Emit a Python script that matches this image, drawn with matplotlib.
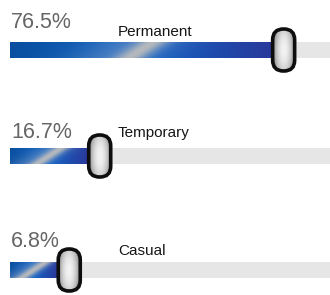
import numpy as np
import matplotlib.pyplot as plt
from matplotlib.patches import FancyBboxPatch, Rectangle
from matplotlib.colors import to_rgb

categories = ["Permanent", "Temporary", "Casual"]
shares = [76.5, 16.7, 6.8]

# layout (pixels -> data: x in percent, y in pixels)
W, H = 330, 295
PX = 3.076            # pixels per percent
X0 = -11.64           # percent value at left edge
row_y = [50, 156, 270]
pct_dy = [-22, -18, -23]
lab_dy = [-14, -19, -15]
bar_h = 16
track_left = X0 + 10 / PX
label_x = X0 + 118 / PX
pct_x = X0 + 11 / PX
knob_w, knob_h = 22, 42   # pixels

plt.rcParams['font.family'] = ['Liberation Sans', 'DejaVu Sans']

fig = plt.figure(figsize=(3.3, 2.95), dpi=100)
ax = fig.add_axes([0, 0, 1, 1])
ax.axis('off')
xmax = X0 + W / PX


def bar_img(n):
    x = np.arange(n)[None, :] + 0.5
    y = np.arange(bar_h)[:, None] + 0.5
    t = (x / n)[..., None]
    left = np.array(to_rgb('#0a4f9f'))
    mid = np.array(to_rgb('#0c60c4'))
    right = np.array(to_rgb('#2a399b'))
    base = np.where(t < 0.5, left + (mid - left) * (t / 0.5),
                    mid + (right - mid) * ((t - 0.5) / 0.5))
    base = np.broadcast_to(base, (bar_h, n, 3))
    u = (x - n / 2 - 1.5 * (bar_h / 2 - y))[..., None]
    hw = 0.15 * n + 8
    halo = 0.5 * np.exp(-((u + 0.3 * hw) / hw) ** 2)
    streak = 0.9 * np.exp(-(u / (0.04 * n + 5)) ** 2)
    light = np.array(to_rgb('#7d9cc8'))
    gray = np.array(to_rgb('#c2c0bc'))
    img = base * (1 - halo) + light * halo
    img = img * (1 - streak) + gray * streak
    return np.clip(img, 0, 1)


kx = np.linspace(-1, 1, 44)[None, :]
ky = np.linspace(-1, 1, 84)[:, None]
knob_shade = np.clip(0.95 - 0.4 * kx ** 2 - 0.15 * ky ** 2, 0, 1)

for cat, v, yc, pdy, ldy in zip(categories, shares, row_y, pct_dy, lab_dy):
    ax.add_patch(Rectangle((track_left, yc - bar_h / 2), xmax - track_left, bar_h,
                           facecolor='#e6e6e6', edgecolor='none', zorder=1))
    n = int(round((v - track_left) * PX))
    ax.imshow(bar_img(n), extent=(track_left, v, yc + bar_h / 2, yc - bar_h / 2),
              aspect='auto', interpolation='bilinear', zorder=2)
    ax.text(pct_x, yc + pdy, f"{v}%", fontsize=15.5, color='#666666',
            va='baseline', ha='left', zorder=3)
    ax.text(label_x, yc + ldy, cat, fontsize=11, color='#161616',
            va='baseline', ha='left', zorder=3)
    kx0 = v + 0.5
    kw = knob_w / PX
    ky0 = yc - knob_h / 2
    knob = FancyBboxPatch((kx0, ky0), kw, knob_h,
                          boxstyle=f"round,pad=0,rounding_size={kw / 2 * 0.98}",
                          mutation_aspect=PX, facecolor='none',
                          edgecolor='#0e0e0e', linewidth=2.6, zorder=6)
    ax.add_patch(knob)
    im = ax.imshow(knob_shade, cmap='gray', vmin=0, vmax=1,
                   extent=(kx0, kx0 + kw, ky0 + knob_h, ky0),
                   aspect='auto', interpolation='bilinear', zorder=5)
    im.set_clip_path(knob)

ax.set_xlim(X0, xmax)
ax.set_ylim(H, 0)
fig.savefig('out.png', dpi=100)
